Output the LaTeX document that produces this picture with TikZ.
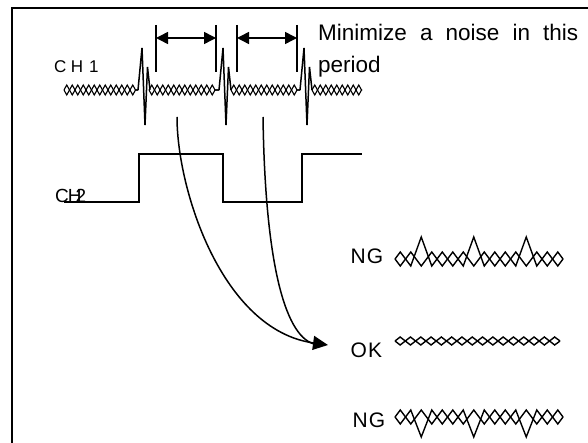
\documentclass[tikz,border=0pt]{standalone}
\usepackage{fontspec}
\setmainfont{Liberation Sans}
\usetikzlibrary{arrows.meta,decorations.pathmorphing}
\begin{document}
\begin{tikzpicture}[x=1pt,y=-1pt,
  frame/.style={line width=2.2pt},
  sig/.style={line width=1.6pt, line join=miter},
  noiseA/.style={line width=1.1pt, decorate, decoration={zigzag, segment length=11pt, amplitude=5pt}},
  noiseB/.style={line width=1.1pt, decorate, decoration={zigzag, segment length=11pt, amplitude=-5pt}},
  spike/.style={line width=1.5pt, line join=miter},
  wave/.style={line width=1.4pt, line join=miter},
  marker/.style={line width=1.5pt},
  span/.style={line width=1.5pt, {Triangle[length=12pt,width=12pt]}-{Triangle[length=12pt,width=12pt]}},
  link/.style={line width=1.5pt},
  lbl/.style={inner sep=0pt, anchor=base west}]
\useasboundingbox (0,0) rectangle (588,443);
\clip (0,0) rectangle (588,443);
% frame (continues beyond the picture)
\draw[frame] (12,470) -- (12,8) -- (600,8);

% CH1 noisy line
\foreach \a/\b in {64/138, 149/219, 231/300, 312/362}{
  \draw[noiseA] (\a,90) -- (\b,90);
  \draw[noiseB] (\a,90) -- (\b,90);
}
\foreach \s in {0,81,162}{
  \draw[spike] (138+\s,90) -- (142+\s,48) -- (145+\s,125) -- (147.5+\s,67) -- (150+\s,90);
}

% period markers
\foreach \x in {156,216,237,297}{
  \draw[marker] (\x,25) -- (\x,72);
}
\coordinate (a1) at (156,38);
\coordinate (a2) at (216,38);
\coordinate (b1) at (237,38);
\coordinate (b2) at (297,38);
\draw[span] (a1) -- (a2);
\draw[span] (b1) -- (b2);

% labels
\node[lbl, align=left, font=\fontsize{22.5}{32}\selectfont] (note) at (318,73)
  {\spaceskip=13.1pt plus 1pt Minimize a noise in this\\period};
\node[lbl, font=\fontsize{17}{17}\selectfont] (ch1) at (54,73) {C\kern4.5pt H\kern6pt 1};
\node[lbl, font=\fontsize{19}{19}\selectfont] (ch2) at (55,203) {C\kern-1pt H\kern-6pt 2};
\node[lbl, font=\fontsize{21}{21}\selectfont] (ng1) at (350.5,264) {N\kern1pt G};
\node[lbl, font=\fontsize{21}{21}\selectfont] (ok) at (350.5,357) {O\kern1pt K};
\node[lbl, font=\fontsize{21}{21}\selectfont] (ng2) at (352.5,427) {N\kern1pt G};

% CH2 square wave
\draw[sig] (64,202) -- (139,202) -- (139,154) -- (223,154) -- (223,202)
  -- (302,202) -- (302,154) -- (362,154);

% curved arrows
\coordinate (s1) at (177,117);
\coordinate (s2) at (263,117);
\coordinate (tip) at (328,345);
\coordinate (meet) at (314,344);
\draw[link, -{Triangle[length=15pt,width=14pt]}] (s1) .. controls (177,190) and (222,330) .. (tip);
\draw[link] (s2) .. controls (265,255) and (283,335) .. (meet);

% NG (upper) waveform with upward peaks
\draw[wave] (395,259) \foreach \j in {0,...,15}{ -- ({400.25+10.5*\j},{ifthenelse(mod(\j,10)==2,237,259-7*(1-2*mod(\j,2)))}) } -- (563,259);
\draw[wave] (395,259) \foreach \j in {0,...,15}{ -- ({400.25+10.5*\j},{ifthenelse(\j==7,237,259+7*(1-2*mod(\j,2)))}) } -- (563,259);

% OK waveform
\draw[wave] (395,341) \foreach \j in {0,...,15}{ -- ({400.15+10.3*\j},{341-4*(1-2*mod(\j,2))}) } -- (560,341);
\draw[wave] (395,341) \foreach \j in {0,...,15}{ -- ({400.15+10.3*\j},{341+4*(1-2*mod(\j,2))}) } -- (560,341);

% NG (lower) waveform with downward peaks
\draw[wave] (395,417) \foreach \j in {0,...,15}{ -- ({400.25+10.5*\j},{ifthenelse(mod(\j,10)==2,437,417+7*(1-2*mod(\j,2)))}) } -- (563,417);
\draw[wave] (395,417) \foreach \j in {0,...,15}{ -- ({400.25+10.5*\j},{ifthenelse(\j==7,437,417-7*(1-2*mod(\j,2)))}) } -- (563,417);
\end{tikzpicture}
\end{document}
